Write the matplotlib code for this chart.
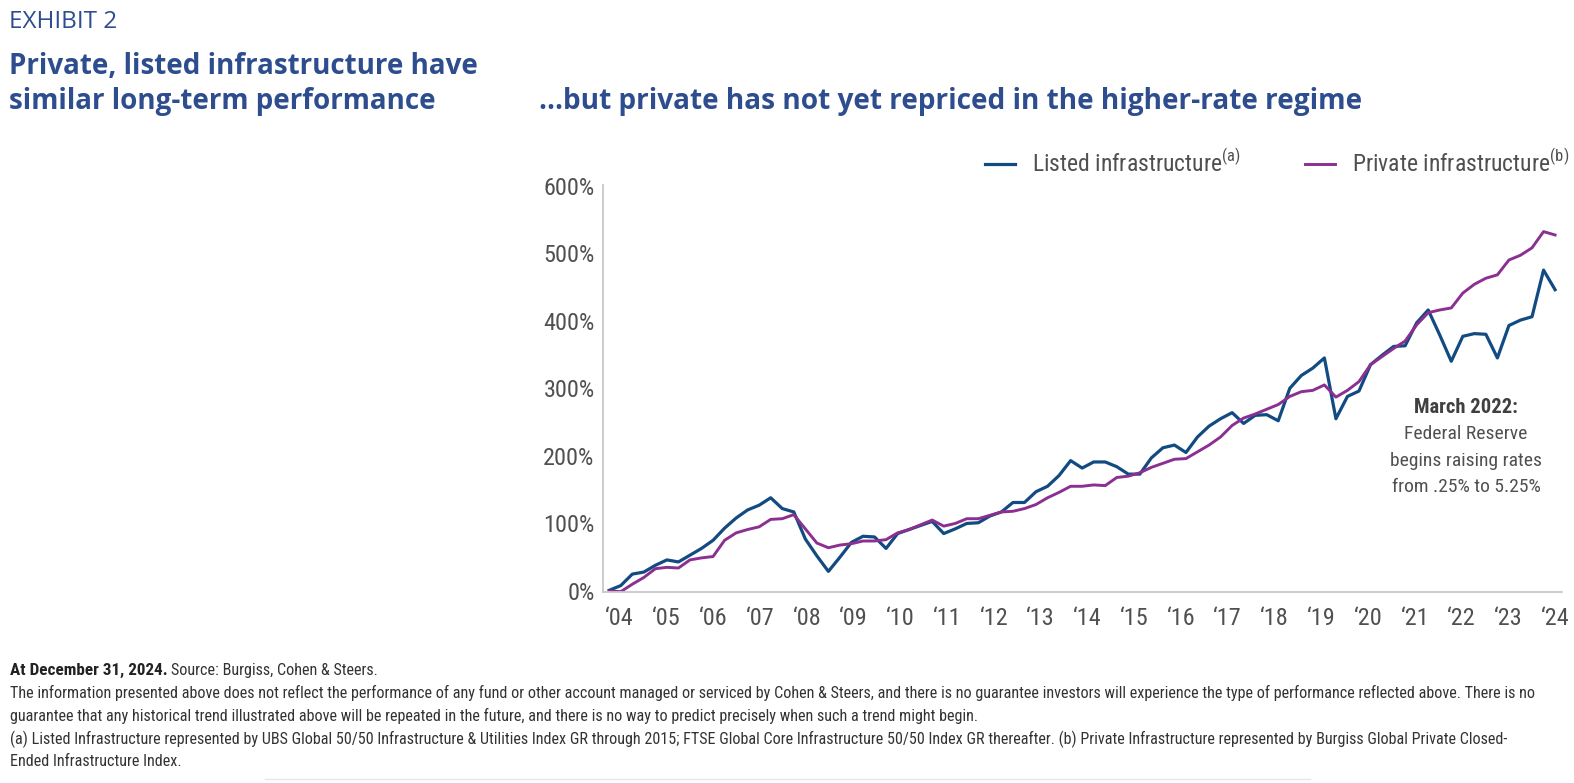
import numpy as np
import matplotlib.pyplot as plt
from matplotlib import font_manager as fm
from matplotlib.lines import Line2D

# quarterly cumulative returns (%), Dec 2003 -> Dec 2024
listed = [1, 8, 25, 28, 38, 46, 43, 53, 63, 75, 93, 108, 120, 127, 138, 122, 117, 77, 52, 29,
          50, 72, 81, 80, 63, 85, 91, 97, 103, 85, 92, 100, 101, 111, 117, 131, 131, 147, 155, 171,
          193, 182, 191, 191, 184, 173, 173, 197, 212, 216, 205, 228, 244, 255, 264, 248, 260, 261, 252, 300,
          319, 330, 345, 255, 288, 296, 335, 349, 362, 363, 397, 416, 379, 340, 377, 381, 380, 345, 393, 401,
          406, 475, 446]
private = [0, -1, 10, 20, 33, 35, 34, 46, 49, 51, 75, 86, 91, 95, 106, 107, 113, 92, 71, 64,
           68, 70, 74, 74, 76, 86, 91, 98, 105, 96, 100, 107, 107, 112, 117, 118, 122, 128, 138, 146,
           155, 155, 157, 156, 168, 170, 175, 183, 189, 195, 196, 206, 216, 228, 245, 256, 262, 269, 276, 288,
           295, 297, 305, 287, 297, 310, 335, 347, 359, 370, 394, 412, 416, 419, 441, 454, 463, 468, 490, 497,
           508, 532, 527]
years = ["\u2018%02d" % y for y in range(4, 25)]
yticks = [0, 100, 200, 300, 400, 500, 600]

W, H = 1574, 783
TITLE = ['Open Sans', 'DejaVu Sans']
blue_t = '#2d4d8e'
c_listed = '#124a82'
c_private = '#8b2f91'
grey = '#505050'


def narrow_font(bold):
    # look for an installed condensed face, fall back to DejaVu Sans
    cands = []
    for f in fm.fontManager.ttflist:
        nm = (f.name + ' ' + f.fname).lower()
        is_narrow = ('narrow' in nm or 'condensed' in nm or
                     f.stretch in ('condensed', 'semi-condensed', 'extra-condensed'))
        if not is_narrow or f.style != 'normal':
            continue
        if 'semicondensed' in nm or 'extracondensed' in nm or 'ultracondensed' in nm:
            continue
        w = f.weight if isinstance(f.weight, int) else (700 if 'bold' in str(f.weight) else 400)
        if bold and w < 600:
            continue
        if not bold and w != 400:
            continue
        rank = 9
        for i, key in enumerate(['liberation sans narrow', 'roboto condensed', 'noto sans',
                                 'dejavu sans', 'open sans']):
            if key in nm:
                rank = i
                break
        cands.append((rank, f.fname))
    if cands:
        cands.sort()
        return fm.FontProperties(fname=cands[0][1]), True
    return fm.FontProperties(family='DejaVu Sans', weight='bold' if bold else 'normal'), False


NR, found = narrow_font(False)
NB, _ = narrow_font(True)
k = 1.0 if found else 0.8


def fp(base, size):
    p = base.copy()
    p.set_size(size * k)
    return p


def fx(x):
    return x / W


def fy(y):
    return 1 - y / H


fig = plt.figure(figsize=(W / 100, H / 100), dpi=100)
ax = fig.add_axes([fx(603), fy(592), fx(1562) - fx(603), fy(185) - fy(592)])

x = np.arange(len(listed))
ax.plot(x, listed, color=c_listed, lw=2.3, label='Listed infrastructure$^{\\mathregular{(a)}}$')
ax.plot(x, private, color=c_private, lw=2.1, label='Private infrastructure$^{\\mathregular{(b)}}$')

ax.set_xlim(-0.54, 82.6)
ax.set_ylim(-1.5, 601)
ax.set_yticks(yticks)
ax.set_yticklabels(['%d%%' % v for v in yticks], fontproperties=fp(NR, 17.5), color=grey)
xt = [(620 + 46.75 * j - 609.5) / 11.53 for j in range(len(years))]
ax.set_xticks(xt)
ax.set_xticklabels(years, fontproperties=fp(NR, 17.5), color=grey)
ax.tick_params(length=0)
ax.tick_params(axis='y', pad=6)
ax.tick_params(axis='x', pad=11)
for s in ['top', 'right']:
    ax.spines[s].set_visible(False)
for s in ['left', 'bottom']:
    ax.spines[s].set_color('#c8c8c8')
    ax.spines[s].set_linewidth(1.3)

leg = ax.legend(loc='center right', bbox_to_anchor=(1.017, 1.054), ncol=2, frameon=False,
                prop=fp(NR, 17), handlelength=1.27, handletextpad=0.72,
                columnspacing=2.7, borderaxespad=0.0)
for t in leg.get_texts():
    t.set_color(grey)

# annotation
fig.text(fx(1466), fy(408), 'March 2022:', ha='center', va='center',
         fontproperties=fp(NB, 14.8), color='#404040')
for i, line in enumerate(['Federal Reserve', 'begins raising rates', 'from .25% to 5.25%']):
    fig.text(fx(1466), fy(434 + 26.5 * i), line, ha='center', va='center',
             fontproperties=fp(NR, 14), color=grey)

# titles
fig.text(fx(9), fy(22), 'EXHIBIT 2', family=TITLE, fontsize=17.5, color=blue_t, va='center')
fig.text(fx(9), fy(66), 'Private, listed infrastructure have',
         family=TITLE, fontsize=20, fontweight='bold', color=blue_t, va='center')
fig.text(fx(9), fy(101), 'similar long-term performance',
         family=TITLE, fontsize=20, fontweight='bold', color=blue_t, va='center')
fig.text(fx(539), fy(101), '...but private has not yet repriced in the higher-rate regime',
         family=TITLE, fontsize=20.2, fontweight='bold', color=blue_t, va='center')

# footnotes
b = fig.text(fx(10), fy(670), 'At December 31, 2024.', fontproperties=fp(NB, 12.3),
             color='#222222', va='center')
fig.canvas.draw()
bb = b.get_window_extent()
fig.text(bb.x1 / W + 0.002, fy(670), 'Source: Burgiss, Cohen & Steers.', fontproperties=fp(NR, 11.6),
         color='#333333', va='center')
notes = [
    'The information presented above does not reflect the performance of any fund or other account managed or '
    'serviced by Cohen & Steers, and there is no guarantee investors will experience the type of performance '
    'reflected above. There is no',
    'guarantee that any historical trend illustrated above will be repeated in the future, and there is no way '
    'to predict precisely when such a trend might begin.',
    '(a) Listed Infrastructure represented by UBS Global 50/50 Infrastructure & Utilities Index GR through 2015; '
    'FTSE Global Core Infrastructure 50/50 Index GR thereafter. (b) Private Infrastructure represented by '
    'Burgiss Global Private Closed-',
    'Ended Infrastructure Index.',
]
for i, n in enumerate(notes):
    fig.text(fx(10), fy(693 + 23 * i), n, fontproperties=fp(NR, 11.6), color='#333333', va='center')

fig.add_artist(Line2D([fx(265), fx(1310)], [fy(779), fy(779)], color='#e6e6e6', lw=1))

fig.savefig('out.png', dpi=100)
